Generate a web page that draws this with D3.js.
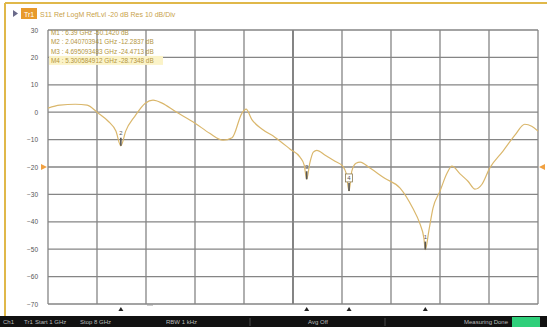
<!DOCTYPE html>
<html>
<head>
<meta charset="utf-8">
<script src="https://cdn.jsdelivr.net/npm/d3@7/dist/d3.min.js"></script>
<style>
  html, body { margin: 0; padding: 0; background: #fff; }
  svg { display: block; font-family: "Liberation Sans", Arial, sans-serif; }
</style>
</head>
<body>
<svg id="chart" width="547" height="327"></svg>
<script>
// S11 trace, frequency in GHz, magnitude in dB
const freqGHz = [1.00, 1.17, 1.39, 1.56, 1.70, 1.86, 1.97, 2.0407, 2.11, 2.24, 2.39, 2.50, 2.63, 2.81,
  3.10, 3.31, 3.50, 3.63, 3.77, 3.83, 3.91, 4.06, 4.24, 4.46, 4.60, 4.66, 4.6951, 4.74, 4.79, 4.84,
  4.96, 5.10, 5.21, 5.26, 5.3006, 5.34, 5.40, 5.46, 5.60, 5.81, 6.03, 6.21, 6.31, 6.37, 6.39, 6.44,
  6.50, 6.60, 6.70, 6.77, 6.89, 7.00, 7.10, 7.20, 7.31, 7.50, 7.67, 7.81, 7.91, 8.00];
const magDB = [1.5, 2.6, 2.9, 2.6, 0.0, -3.3, -6.9, -12.2837, -6.9, -1.5, 3.3, 4.4, 3.3, 0.4,
  -4.0, -7.7, -10.2, -9.3, -0.4, 1.1, -2.6, -6.2, -9.1, -13.5, -16.4, -19.3, -24.4713, -18.6, -14.6, -13.9,
  -15.7, -17.9, -19.7, -22.3, -28.7348, -21.5, -18.6, -18.2, -20.4, -24.1, -27.7, -35.0, -40.5, -46.0, -50.1420, -43.4,
  -35.0, -28.8, -22.3, -19.7, -22.6, -25.2, -28.1, -26.3, -20.4, -14.2, -8.4, -4.4, -5.1, -6.9];

// Markers
const markerIds = [1, 2, 3, 4];
const markerFreqGHz = [6.39, 2.040703941, 4.695093483, 5.300584912];
const markerDB = [-50.1420, -12.2837, -24.4713, -28.7348];
const markerFreqText = ["6.39 GHz", "2.040703941 GHz", "4.695093483 GHz", "5.300584912 GHz"];
const activeMarker = 4;

// Axis ticks
const yTicks = [30, 20, 10, 0, -10, -20, -30, -40, -50, -60, -70];
const refLevel = -20;
const startGHz = 1, stopGHz = 8;

const svg = d3.select("#chart");
const W = 547, H = 327;
const plot = { left: 48, right: 538, top: 30, bottom: 304 };

const x = d3.scaleLinear().domain([startGHz, stopGHz]).range([plot.left, plot.right]);
const y = d3.scaleLinear().domain([-70, 30]).range([plot.bottom, plot.top]);

// Window frame accents
svg.append("line").attr("x1", 5).attr("x2", W).attr("y1", 3).attr("y2", 3)
  .attr("stroke", "#e0b84a").attr("stroke-width", 2);
svg.append("line").attr("x1", 5).attr("x2", 5).attr("y1", 3).attr("y2", 316)
  .attr("stroke", "#e0b84a").attr("stroke-width", 2);

// Header: trace tag and settings
svg.append("path").attr("d", "M13,10 L18,13.5 L13,17 Z").attr("fill", "#6a6a8a");
svg.append("rect").attr("x", 21).attr("y", 8).attr("width", 16).attr("height", 11).attr("fill", "#e89a2c");
svg.append("text").attr("x", 29).attr("y", 16.5).attr("text-anchor", "middle")
  .attr("font-size", 7).attr("fill", "#fff").text("Tr1");
svg.append("text").attr("x", 40).attr("y", 16.5).attr("font-size", 7).attr("fill", "#c9a24a")
  .text("S11 Ref LogM RefLvl -20 dB Res 10 dB/Div");

// Grid
const grid = svg.append("g");
const xGrid = d3.range(11).map(i => startGHz + i * (stopGHz - startGHz) / 10);
grid.selectAll("line.v").data(xGrid).join("line")
  .attr("x1", d => x(d)).attr("x2", d => x(d))
  .attr("y1", plot.top).attr("y2", plot.bottom)
  .attr("stroke", (d, i) => i === 5 ? "#666" : "#858585")
  .attr("stroke-width", (d, i) => i === 5 ? 1.6 : 1.3);
grid.selectAll("line.h").data(yTicks).join("line")
  .attr("x1", plot.left).attr("x2", plot.right)
  .attr("y1", d => y(d)).attr("y2", d => y(d))
  .attr("stroke", "#858585").attr("stroke-width", 1.3);

// Y axis labels
const yAxis = d3.axisLeft(y).tickValues(yTicks).tickSize(0).tickPadding(10);
const ya = svg.append("g").attr("transform", `translate(${plot.left},0)`).call(yAxis);
ya.select(".domain").remove();
ya.selectAll("text").attr("font-size", 6.5).attr("fill", "#555").attr("font-family", "Liberation Sans, Arial, sans-serif");

// Reference level arrows
svg.append("path")
  .attr("d", `M41,${y(refLevel) - 3} L47,${y(refLevel)} L41,${y(refLevel) + 3} Z`)
  .attr("fill", "#f0a040");
svg.append("path")
  .attr("d", `M545,${y(refLevel) - 3} L539,${y(refLevel)} L545,${y(refLevel) + 3} Z`)
  .attr("fill", "#f0a040");

// Marker readout table
const table = svg.append("g");
markerIds.forEach((id, i) => {
  const ty = 35 + i * 9.3;
  if (id === activeMarker) {
    table.append("rect").attr("x", 49).attr("y", ty - 7).attr("width", 114).attr("height", 9)
      .attr("fill", "#fbf3c8");
  }
  table.append("text").attr("x", 51).attr("y", ty).attr("font-size", 6.4)
    .attr("fill", "#b39540")
    .text(`M${id} :  ${markerFreqText[i]}  ${markerDB[i].toFixed(4)} dB`);
});

// Trace
const pts = freqGHz.map((f, i) => [f, magDB[i]]);
const line = d3.line().x(d => x(d[0])).y(d => y(d[1])).curve(d3.curveMonotoneX);
svg.append("path").datum(pts).attr("d", line)
  .attr("fill", "none").attr("stroke", "#dab76c").attr("stroke-width", 1.2);

// Marker flags on trace
markerIds.forEach((id, i) => {
  const mx = x(markerFreqGHz[i]), my = y(markerDB[i]);
  const g = svg.append("g");
  g.append("line").attr("x1", mx).attr("x2", mx).attr("y1", my - 8).attr("y2", my)
    .attr("stroke", "#555").attr("stroke-width", 1.6);
  if (id === activeMarker) {
    g.append("rect").attr("x", mx - 3.5).attr("y", my - 17).attr("width", 7).attr("height", 8)
      .attr("fill", "#fff").attr("stroke", "#8a7a50").attr("stroke-width", 0.8);
  }
  g.append("text").attr("x", mx).attr("y", my - 10.5).attr("text-anchor", "middle")
    .attr("font-size", 6).attr("fill", "#555").text(id);
  // position indicator below the graticule
  svg.append("path")
    .attr("d", `M${mx - 2.5},${plot.bottom + 7} L${mx},${plot.bottom + 3} L${mx + 2.5},${plot.bottom + 7} Z`)
    .attr("fill", "#222");
});
svg.append("line").attr("x1", 147).attr("x2", 153).attr("y1", plot.bottom + 1).attr("y2", plot.bottom + 1)
  .attr("stroke", "#999").attr("stroke-width", 1);

// Status bar
svg.append("rect").attr("x", 0).attr("y", 316).attr("width", W).attr("height", 11).attr("fill", "#111");
const status = svg.append("g").attr("font-size", 6).attr("fill", "#bbb");
status.append("text").attr("x", 3).attr("y", 324).text("Ch1");
status.append("text").attr("x", 24).attr("y", 324).text("Tr1");
status.append("text").attr("x", 35).attr("y", 324).text(`Start ${startGHz} GHz`);
status.append("text").attr("x", 80).attr("y", 324).text(`Stop ${stopGHz} GHz`);
status.append("text").attr("x", 166).attr("y", 324).text("RBW 1 kHz");
status.append("text").attr("x", 318).attr("y", 324).attr("text-anchor", "middle").text("Avg Off");
status.append("text").attr("x", 508).attr("y", 324).attr("text-anchor", "end").text("Measuring Done");
[250, 385].forEach(sx => svg.append("line").attr("x1", sx).attr("x2", sx).attr("y1", 318).attr("y2", 326)
  .attr("stroke", "#555").attr("stroke-width", 0.8));
svg.append("rect").attr("x", 512).attr("y", 317).attr("width", 28).attr("height", 10).attr("fill", "#2fcf7a");
</script>
</body>
</html>
